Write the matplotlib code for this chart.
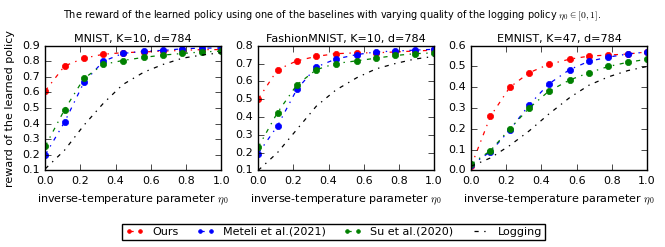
import matplotlib
matplotlib.use("Agg")
import matplotlib.pyplot as plt
import numpy as np

eta = [0.0, 0.11, 0.22, 0.33, 0.44, 0.56, 0.67, 0.78, 0.89, 1.0]

titles = ["MNIST, K=10, d=784", "FashionMNIST, K=10, d=784", "EMNIST, K=47, d=784"]
ylims = [(0.1, 0.9), (0.1, 0.8), (0.0, 0.6)]

ours = [
    [0.61, 0.77, 0.82, 0.845, 0.855, 0.86, 0.865, 0.87, 0.875, 0.875],
    [0.50, 0.665, 0.715, 0.74, 0.755, 0.76, 0.76, 0.765, 0.77, 0.775],
    [0.02, 0.26, 0.40, 0.47, 0.51, 0.535, 0.55, 0.555, 0.56, 0.57],
]
meteli = [
    [0.20, 0.41, 0.665, 0.80, 0.85, 0.865, 0.87, 0.88, 0.885, 0.885],
    [0.195, 0.35, 0.555, 0.68, 0.725, 0.75, 0.765, 0.77, 0.775, 0.78],
    [0.025, 0.09, 0.195, 0.315, 0.415, 0.485, 0.525, 0.545, 0.56, 0.57],
]
su = [
    [0.255, 0.49, 0.69, 0.78, 0.805, 0.825, 0.84, 0.85, 0.86, 0.865],
    [0.23, 0.425, 0.58, 0.665, 0.70, 0.715, 0.73, 0.745, 0.755, 0.76],
    [0.03, 0.095, 0.20, 0.30, 0.38, 0.435, 0.47, 0.50, 0.52, 0.535],
]
logging = [
    [0.11, 0.23, 0.39, 0.53, 0.65, 0.73, 0.78, 0.82, 0.84, 0.855],
    [0.10, 0.20, 0.33, 0.46, 0.55, 0.62, 0.67, 0.70, 0.725, 0.74],
    [0.02, 0.06, 0.12, 0.19, 0.27, 0.35, 0.41, 0.45, 0.48, 0.50],
]

plt.style.use("classic")
plt.rcParams["font.size"] = 8
plt.rcParams["font.family"] = "DejaVu Sans"

fig, axes = plt.subplots(1, 3, figsize=(6.65, 2.47), dpi=100)
fig.subplots_adjust(left=0.068, right=0.973, top=0.815, bottom=0.31, wspace=0.21)
fig.patch.set_facecolor("white")

dash = (0, (3, 4, 1, 4))
for i, ax in enumerate(axes):
    l1, = ax.plot(eta, ours[i], color="red", ls=dash, marker="o", ms=4.5, mec="red", lw=0.9)
    l2, = ax.plot(eta, meteli[i], color="blue", ls=dash, marker="o", ms=4.5, mec="blue", lw=0.9)
    l3, = ax.plot(eta, su[i], color="green", ls=dash, marker="o", ms=4.5, mec="green", lw=0.9)
    l4, = ax.plot(eta, logging[i], color="black", ls=dash, lw=0.9)
    ax.set_xlim(0, 1)
    ax.set_ylim(*ylims[i])
    ax.set_title(titles[i], fontsize=8, pad=3)
    ax.set_xlabel(r"inverse-temperature parameter $\eta_0$", fontsize=8)
    ax.tick_params(labelsize=8)

axes[0].set_ylabel("reward of the learned policy", fontsize=8)

fig.suptitle(r"The reward of the learned policy using one of the baselines with varying quality of the logging policy $\eta_0\in[0,1]$.",
             fontsize=7, y=0.965)

fig.legend([l1, l2, l3, l4], ["Ours", "Meteli et al.(2021)", "Su et al.(2020)", "Logging"],
           loc="lower center", ncol=4, bbox_to_anchor=(0.502, 0.005), fontsize=8,
           numpoints=2, markerscale=0.6, handlelength=1.6, handletextpad=0.8,
           columnspacing=1.6, borderpad=0.3, frameon=True)

fig.savefig("out.png", dpi=100, facecolor="white")
